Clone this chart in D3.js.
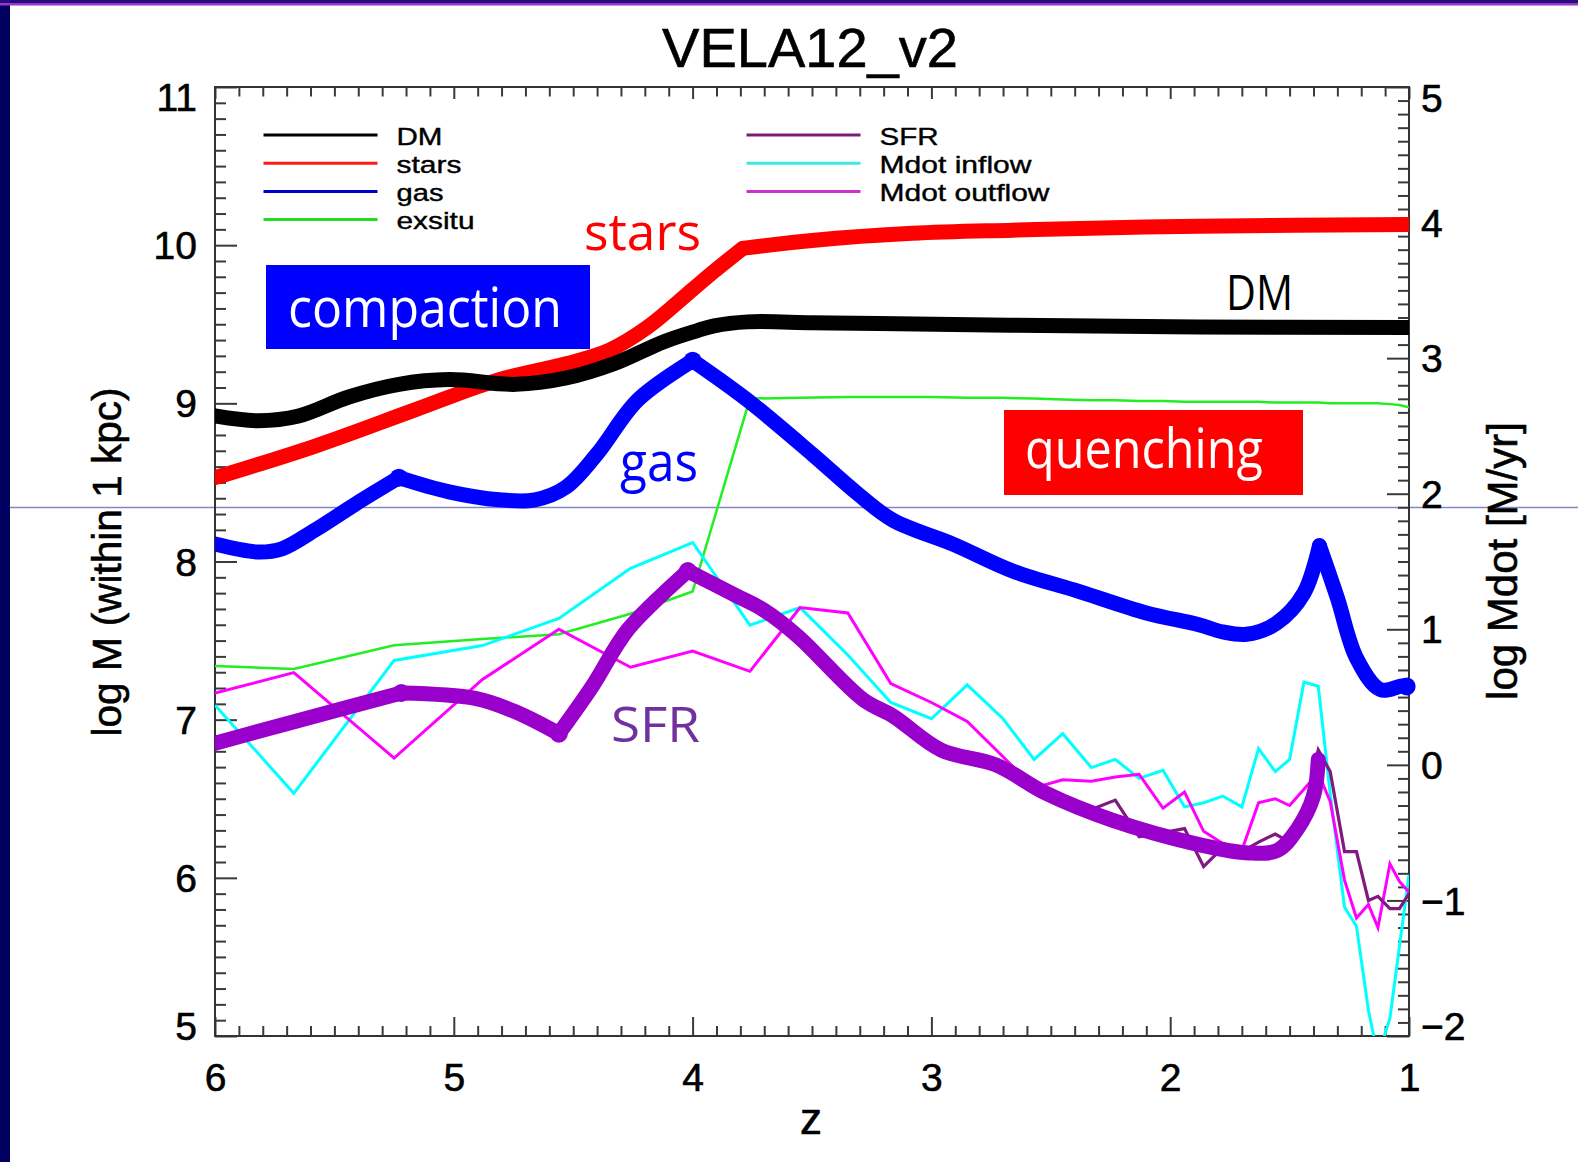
<!DOCTYPE html>
<html>
<head>
<meta charset="utf-8">
<script src="https://cdn.jsdelivr.net/npm/d3@7"></script>
<style>
  html, body { margin: 0; padding: 0; background: #fff; }
  svg text { font-family: "Liberation Sans", Arial, Helvetica, sans-serif; }
  .note { font-family: "Open Sans", "Noto Sans", sans-serif; }
</style>
</head>
<body>
<div id="chart"></div>
<script>
// redshift grid of the simulation snapshots (thin curves)
const zGrid = [6.00, 5.67, 5.25, 4.88, 4.56, 4.26, 4.00, 3.76, 3.55, 3.35, 3.17, 3.00, 2.85, 2.70,
  2.57, 2.45, 2.33, 2.23, 2.13, 2.03, 1.94, 1.86, 1.78, 1.70, 1.63, 1.56, 1.50, 1.44, 1.38, 1.33,
  1.27, 1.22, 1.17, 1.13, 1.08, 1.04, 1.00];

// left axis (log M)
const exsitu = [7.34, 7.32, 7.47, 7.51, 7.54, 7.67, 7.81, 9.03, 9.035, 9.04, 9.04, 9.04, 9.035, 9.035,
  9.03, 9.025, 9.02, 9.02, 9.015, 9.015, 9.01, 9.01, 9.01, 9.01, 9.01, 9.005, 9.005, 9.005, 9.005, 9.0,
  9.0, 9.0, 9.0, 9.0, 8.995, 8.99, 8.975];

// right axis (log Mdot)
const inflow = [0.44, -0.21, 0.77, 0.88, 1.08, 1.45, 1.64, 1.03, 1.16, 0.81, 0.46, 0.34, 0.59, 0.34,
  0.04, 0.23, -0.02, 0.04, -0.10, -0.04, -0.31, -0.28, -0.23, -0.31, 0.12, -0.05, 0.04, 0.61, 0.58, -0.21,
  -1.05, -1.19, -1.81, -2.15, -1.87, -1.34, -0.81];
const outflow = [0.53, 0.68, 0.05, 0.63, 1.00, 0.72, 0.84, 0.69, 1.16, 1.12, 0.60, 0.46, 0.32, 0.06,
  -0.17, -0.11, -0.12, -0.09, -0.07, -0.32, -0.20, -0.49, -0.58, -0.63, -0.28, -0.25, -0.30, -0.18, -0.06, -0.27,
  -0.85, -1.13, -1.03, -1.20, -0.73, -0.86, -0.94];
const sfrThin = [0.16, 0.32, 0.52, 0.48, 0.23, 1.00, 1.42, 1.20, 0.93, 0.60, 0.36, 0.14, 0.05, -0.01,
  -0.15, -0.28, -0.33, -0.26, -0.53, -0.50, -0.47, -0.75, -0.61, -0.64, -0.57, -0.51, -0.57, -0.35, 0.11, -0.05,
  -0.64, -0.64, -1.00, -0.97, -1.06, -1.06, -0.95];

// hand drawn thick curves (kinks = sharp corners)
const dmZ = [6.00, 5.82, 5.65, 5.44, 5.23, 5.02, 4.74, 4.53, 4.33, 4.12, 3.98, 3.91, 3.77, 3.50, 3.22, 2.66, 1.88, 1.00];
const dmV = [8.92, 8.89, 8.92, 9.04, 9.12, 9.15, 9.12, 9.16, 9.25, 9.39, 9.46, 9.49, 9.515, 9.51, 9.504, 9.494, 9.483, 9.48];
const dmKinks = [];

const starsZ = [6.00, 5.58, 5.16, 4.81, 4.53, 4.35, 4.19, 4.00, 3.91, 3.79, 3.50, 3.08, 2.66, 2.24, 1.88, 1.00];
const starsV = [8.53, 8.73, 8.96, 9.15, 9.25, 9.335, 9.48, 9.72, 9.835, 9.98, 10.03, 10.075, 10.095, 10.11, 10.12, 10.13];
const starsKinks = [3.79];

const gasZ = [6.00, 5.82, 5.72, 5.58, 5.41, 5.23, 5.02, 4.81, 4.66, 4.53, 4.40, 4.23, 4.00, 3.77, 3.50, 3.31,
  3.16, 2.91, 2.66, 2.38, 2.10, 1.88, 1.78, 1.68, 1.555, 1.44, 1.375, 1.30, 1.22, 1.12, 1.02, 1.00];
const gasV = [8.11, 8.06, 8.08, 8.20, 8.365, 8.53, 8.44, 8.39, 8.39, 8.47, 8.68, 9.02, 9.27, 9.02, 8.68, 8.43,
  8.26, 8.11, 7.94, 7.81, 7.675, 7.60, 7.555, 7.54, 7.61, 7.80, 8.10, 7.77, 7.39, 7.19, 7.215, 7.20];
const gasKinks = [5.23, 4.00, 1.375];

const sfrZ = [6.00, 5.665, 5.22, 4.91, 4.74, 4.56, 4.42, 4.27, 4.02, 3.82, 3.70, 3.56, 3.285, 3.16, 2.96, 2.73,
  2.52, 2.24, 1.875, 1.67, 1.55, 1.47, 1.40, 1.38];
const sfrV = [0.16, 0.32, 0.53, 0.49, 0.39, 0.23, 0.58, 1.00, 1.43, 1.25, 1.14, 0.95, 0.48, 0.36, 0.11, 0.00,
  -0.21, -0.41, -0.59, -0.65, -0.63, -0.48, -0.23, 0.04];
const sfrKinks = [5.22, 4.56, 4.02];

const gasDotZ = [5.23, 4.00, 1.01];
const gasDotV = [8.53, 9.27, 7.21];
const sfrDotZ = [5.22, 4.56, 4.02];
const sfrDotV = [0.53, 0.23, 1.43];

const xTicks = [6, 5, 4, 3, 2, 1];
const leftTicks = [5, 6, 7, 8, 9, 10, 11];
const rightTicks = [-2, -1, 0, 1, 2, 3, 4, 5];

const legendLeft = [
  { name: "DM", color: "#000000", len: 46 },
  { name: "stars", color: "#ff1a1a", len: 65 },
  { name: "gas", color: "#0000cc", len: 47 },
  { name: "exsitu", color: "#22dd22", len: 78 }
];
const legendRight = [
  { name: "SFR", color: "#7a1a7a", len: 59 },
  { name: "Mdot inflow", color: "#3fe6e6", len: 152 },
  { name: "Mdot outflow", color: "#cc33cc", len: 170 }
];

{
  const W = 1578, H = 1162;
  const box = { left: 215, right: 1409, top: 87, bottom: 1036 };

  const svg = d3.select("#chart").append("svg")
    .attr("width", W).attr("height", H)
    .attr("viewBox", `0 0 ${W} ${H}`);

  // slide frame
  svg.append("rect").attr("width", W).attr("height", H).attr("fill", "#fff");
  svg.append("rect").attr("x", 0).attr("y", 0).attr("width", 10).attr("height", H).attr("fill", "#000060");
  svg.append("rect").attr("x", 0).attr("y", 0).attr("width", W).attr("height", 3).attr("fill", "#20107a");
  svg.append("rect").attr("x", 0).attr("y", 3).attr("width", W).attr("height", 2.5).attr("fill", "#a030d0");
  svg.append("line").attr("x1", 10).attr("x2", W).attr("y1", 507.5).attr("y2", 507.5)
    .attr("stroke", "#8686bf").attr("stroke-width", 1.5);

  const x = d3.scaleLinear().domain([6, 1]).range([box.left, box.right]);
  const yL = d3.scaleLinear().domain([5, 11]).range([box.bottom, box.top]);
  const yR = d3.scaleLinear().domain([-2, 5]).range([box.bottom, box.top]);

  const minors = (a, b) => d3.range(a * 10, b * 10 + 1).filter(v => v % 10 !== 0).map(v => v / 10);

  const tickStyle = g => {
    g.select(".domain").remove();
    g.selectAll(".tick line").attr("stroke", "#3a3a3a").attr("stroke-width", 2);
    g.selectAll("text").attr("fill", "#000").attr("font-size", 39)
      .attr("stroke", "#000").attr("stroke-width", 0.6)
      .attr("font-family", "'Liberation Sans', Arial, sans-serif");
  };

  // bottom axis
  svg.append("g").attr("transform", `translate(0,${box.bottom})`)
    .call(d3.axisBottom(x).tickValues(minors(1, 6)).tickSize(-10).tickFormat(""))
    .call(tickStyle);
  svg.append("g").attr("transform", `translate(0,${box.bottom})`)
    .call(d3.axisBottom(x).tickValues(xTicks).tickSize(-19).tickPadding(27).tickFormat(d3.format("d")))
    .call(tickStyle);
  // top axis
  svg.append("g").attr("transform", `translate(0,${box.top})`)
    .call(d3.axisTop(x).tickValues(minors(1, 6)).tickSize(-9.5).tickFormat(""))
    .call(tickStyle);
  svg.append("g").attr("transform", `translate(0,${box.top})`)
    .call(d3.axisTop(x).tickValues(xTicks).tickSize(-12).tickFormat(""))
    .call(tickStyle);

  // left axis
  svg.append("g").attr("transform", `translate(${box.left},0)`)
    .call(d3.axisLeft(yL).tickValues(minors(5, 11)).tickSize(-11).tickFormat(""))
    .call(tickStyle);
  const gl = svg.append("g").attr("transform", `translate(${box.left},0)`)
    .call(d3.axisLeft(yL).tickValues(leftTicks).tickSize(-22).tickPadding(18).tickFormat(d3.format("d")))
    .call(tickStyle);
  gl.selectAll(".tick text").attr("dy", d => d === 11 ? "0.6em" : d === 5 ? "0.08em" : "0.35em");

  // right axis
  svg.append("g").attr("transform", `translate(${box.right},0)`)
    .call(d3.axisRight(yR).tickValues(minors(-2, 5)).tickSize(-11).tickFormat(""))
    .call(tickStyle);
  const gr = svg.append("g").attr("transform", `translate(${box.right},0)`)
    .call(d3.axisRight(yR).tickValues(rightTicks).tickSize(-22).tickPadding(12).tickFormat(d3.format("d")))
    .call(tickStyle);
  gr.selectAll(".tick text").attr("dy", d => d === 5 ? "0.63em" : d === -2 ? "0.08em" : "0.35em");

  svg.append("rect")
    .attr("x", box.left).attr("y", box.top)
    .attr("width", box.right - box.left).attr("height", box.bottom - box.top)
    .attr("fill", "none").attr("stroke", "#333").attr("stroke-width", 2);

  // titles
  const title = (sel, size) => sel.attr("font-size", size).attr("fill", "#000")
    .attr("stroke", "#000").attr("stroke-width", 0.6).attr("text-anchor", "middle");
  svg.append("text").attr("x", 810).attr("y", 67).call(title, 56).text("VELA12_v2");
  svg.append("text").attr("transform", "translate(121,562) rotate(-90)").call(title, 40.5)
    .text("log M (within 1 kpc)");
  svg.append("text").attr("transform", "translate(1517,561) rotate(-90)").call(title, 42)
    .text("log Mdot [M/yr]");
  svg.append("text").attr("x", 811).attr("y", 1134).call(title, 44).text("z");

  // legend
  const legRow = 28.2, legTop = 135;
  const drawLegend = (items, x0) => {
    const g = svg.append("g");
    items.forEach((d, i) => {
      const yy = legTop + i * legRow;
      g.append("line").attr("x1", x0).attr("x2", x0 + 114).attr("y1", yy).attr("y2", yy)
        .attr("stroke", d.color).attr("stroke-width", 3);
      g.append("text").attr("x", x0 + 133).attr("y", yy + 9.5).attr("font-size", 24.5)
        .attr("stroke", "#000").attr("stroke-width", 0.4)
        .attr("textLength", d.len).attr("lengthAdjust", "spacingAndGlyphs").text(d.name);
    });
  };
  drawLegend(legendLeft, 263.5);
  drawLegend(legendRight, 746.5);

  // data
  svg.append("clipPath").attr("id", "plotclip").append("rect")
    .attr("x", box.left).attr("y", box.top)
    .attr("width", box.right - box.left).attr("height", box.bottom - box.top);
  const plot = svg.append("g").attr("clip-path", "url(#plotclip)");

  const zip = (zs, vs) => zs.map((z, i) => ({ z, v: vs[i] }));
  // split a curve at its sharp corners
  const pieces = (zs, vs, kinks) => {
    const pts = zip(zs, vs), out = [];
    let cur = [];
    pts.forEach(p => {
      cur.push(p);
      if (kinks.includes(p.z)) { out.push(cur); cur = [p]; }
    });
    if (cur.length > 1) out.push(cur);
    return out;
  };

  const thinL = d3.line().x(d => x(d.z)).y(d => yL(d.v));
  const thinR = d3.line().x(d => x(d.z)).y(d => yR(d.v));
  const smoothL = d3.line().x(d => x(d.z)).y(d => yL(d.v)).curve(d3.curveCatmullRom.alpha(0.5));
  const smoothR = d3.line().x(d => x(d.z)).y(d => yR(d.v)).curve(d3.curveCatmullRom.alpha(0.5));

  const thin = [
    { vals: exsitu, gen: thinL, color: "#22ee22", w: 2.5 },
    { vals: inflow, gen: thinR, color: "#00ffff", w: 3 },
    { vals: outflow, gen: thinR, color: "#ff00ff", w: 3 },
    { vals: sfrThin, gen: thinR, color: "#7f1a7f", w: 3.2 }
  ];
  thin.forEach(s => {
    plot.append("path").attr("d", s.gen(zip(zGrid, s.vals)))
      .attr("fill", "none").attr("stroke", s.color).attr("stroke-width", s.w)
      .attr("stroke-linejoin", "miter");
  });

  const thick = [
    { zs: starsZ, vs: starsV, k: starsKinks, gen: smoothL, color: "#ff0000" },
    { zs: dmZ, vs: dmV, k: dmKinks, gen: smoothL, color: "#000000" },
    { zs: gasZ, vs: gasV, k: gasKinks, gen: smoothL, color: "#0000ff" },
    { zs: sfrZ, vs: sfrV, k: sfrKinks, gen: smoothR, color: "#9900cc" }
  ];
  thick.forEach(s => {
    plot.append("g").selectAll("path").data(pieces(s.zs, s.vs, s.k)).join("path")
      .attr("d", d => s.gen(d))
      .attr("fill", "none").attr("stroke", s.color).attr("stroke-width", 15)
      .attr("stroke-linejoin", "round").attr("stroke-linecap", "round");
  });

  svg.append("g").selectAll("circle").data(zip(gasDotZ, gasDotV)).join("circle")
    .attr("cx", d => x(d.z)).attr("cy", d => yL(d.v)).attr("r", 9).attr("fill", "#0000ff");
  svg.append("g").selectAll("circle").data(zip(sfrDotZ, sfrDotV)).join("circle")
    .attr("cx", d => x(d.z)).attr("cy", d => yR(d.v)).attr("r", 9).attr("fill", "#9900cc");

  // annotations
  svg.append("rect").attr("x", 266).attr("y", 265).attr("width", 324).attr("height", 84).attr("fill", "#0000ff");
  svg.append("text").attr("class", "note").attr("x", 288).attr("y", 327)
    .attr("font-size", 54).attr("fill", "#fff")
    .attr("textLength", 274).attr("lengthAdjust", "spacingAndGlyphs").text("compaction");
  svg.append("rect").attr("x", 1004).attr("y", 410).attr("width", 299).attr("height", 85).attr("fill", "#ff0000");
  svg.append("text").attr("class", "note").attr("x", 1025).attr("y", 468)
    .attr("font-size", 54).attr("fill", "#fff")
    .attr("textLength", 238).attr("lengthAdjust", "spacingAndGlyphs").text("quenching");
  svg.append("text").attr("class", "note").attr("x", 584).attr("y", 250)
    .attr("font-size", 52).attr("fill", "#ff0000")
    .attr("textLength", 117).attr("lengthAdjust", "spacingAndGlyphs").text("stars");
  svg.append("text").attr("class", "note").attr("x", 1226).attr("y", 310)
    .attr("font-size", 49).attr("fill", "#000")
    .attr("textLength", 67).attr("lengthAdjust", "spacingAndGlyphs").text("DM");
  svg.append("text").attr("class", "note").attr("x", 620).attr("y", 481)
    .attr("font-size", 54).attr("fill", "#0000ff")
    .attr("textLength", 78).attr("lengthAdjust", "spacingAndGlyphs").text("gas");
  svg.append("text").attr("class", "note").attr("x", 611).attr("y", 742)
    .attr("font-size", 50).attr("fill", "#7030a0")
    .attr("textLength", 89).attr("lengthAdjust", "spacingAndGlyphs").text("SFR");
}
</script>
</body>
</html>
